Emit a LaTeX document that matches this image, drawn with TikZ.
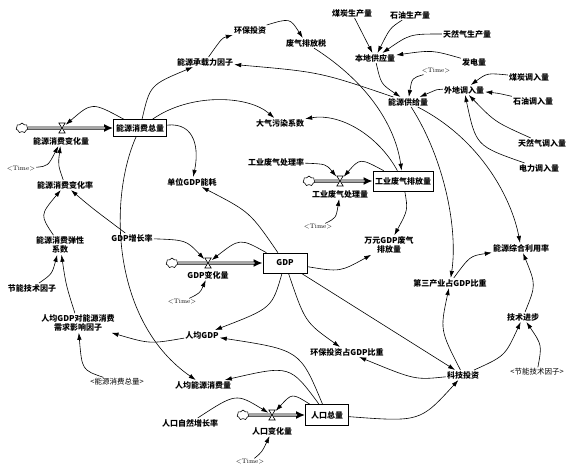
\documentclass[tikz,border=0pt]{standalone}
\usepackage{fontspec}
\newfontfamily\cjk{Noto Sans CJK SC}
\usetikzlibrary{arrows.meta,shapes.symbols}
\tikzset{
 lbl/.style={font=\cjk\bfseries\fontsize{8}{9.5}\selectfont, inner sep=1pt, align=center},
 shd/.style={font=\cjk\fontsize{7.5}{9}\selectfont, inner sep=1pt},
 tm/.style={font=\fontsize{6.5}{7}\selectfont, inner sep=1pt},
 stock/.style={lbl, draw, line width=0.7pt, inner sep=2pt, fill=white},
 arr/.style={line width=0.6pt, -{Latex[length=7pt,width=4.5pt]}},
 cloudn/.style={cloud, draw, cloud puffs=7, minimum width=12pt, minimum height=10pt, inner sep=0pt, fill=white, line width=0.6pt},
 vlv/.style={inner sep=0pt, minimum width=7pt, minimum height=10pt},
 pipeo/.style={line width=3pt, -{Latex[length=9pt,width=8pt]}},
 pipei/.style={white, line width=1.4pt, shorten >=8pt},
 hg/.pic={\draw[fill=white, line width=0.6pt] (-3.2,-5) -- (3.2,-5) -- (-3.2,5) -- (3.2,5) -- cycle;}
}
\begin{document}
\begin{tikzpicture}[x=1pt,y=-1pt]
\useasboundingbox (0,0) rectangle (572,469);
% ---------- nodes
\node[lbl] (coal) at (352,13) {煤炭生产量};
\node[lbl] (oil) at (410,15) {石油生产量};
\node[lbl] (gas) at (467,34) {天然气生产量};
\node[lbl] (local) at (375,58) {本地供应量};
\node[lbl] (power) at (474,62) {发电量};
\node[tm] (t1) at (436,71) {<Time>};
\node[lbl] (coalin) at (529,77) {煤炭调入量};
\node[lbl] (ext) at (464,90) {外地调入量};
\node[lbl] (supply) at (408,102) {能源供给量};
\node[lbl] (oilin) at (533,101) {石油调入量};
\node[lbl] (gasin) at (542,143) {天然气调入量};
\node[lbl] (elecin) at (539,168) {电力调入量};
\node[lbl] (envinv) at (250,30) {环保投资};
\node[lbl] (tax) at (306,43) {废气排放税};
\node[lbl] (carry) at (205,62) {能源承载力因子};
\node[lbl] (airpol) at (280,123) {大气污染系数};

\node[stock, minimum width=53pt, minimum height=17pt] (ectot) at (140,128) {能源消费总量};
\node[cloudn] (c1) at (22,128) {};
\node[vlv] (v1) at (62,128) {};
\node[lbl] (eclab) at (61,141) {能源消费变化量};
\node[tm] (t2) at (21,169) {<Time>};
\node[lbl] (ecrate) at (65,185) {能源消费变化率};
\node[lbl] (unitgdp) at (192,182) {单位GDP能耗};

\node[lbl] (treatrate) at (276,162) {工业废气处理率};
\node[stock, minimum width=60pt, minimum height=20pt] (emis) at (403,181) {工业废气排放量};
\node[cloudn] (c2) at (309,181) {};
\node[vlv] (v2) at (340,181) {};
\node[lbl] (trlab) at (340,194) {工业废气处理量};
\node[tm] (t3) at (318,227) {<Time>};
\node[lbl] (wanyuan) at (389,245) {万元GDP废气\\排放量};

\node[lbl] (gdprate) at (132,238) {GDP增长率};
\node[stock, minimum width=44pt, minimum height=20pt] (gdp) at (285,263) {GDP};
\node[cloudn] (c3) at (172,263) {};
\node[vlv] (v3) at (208,263) {};
\node[lbl] (gdplab) at (208,275) {GDP变化量};
\node[tm] (t4) at (182,302) {<Time>};

\node[lbl] (elast) at (60,245) {能源消费弹性\\系数};
\node[lbl] (saving) at (32,288) {节能技术因子};
\node[lbl] (pcfactor) at (78,323) {人均GDP对能源消费\\需求影响因子};
\node[shd] (ectot2) at (117,382) {<能源消费总量>};
\node[lbl] (pcgdp) at (202,335) {人均GDP};
\node[lbl] (pcec) at (203,385) {人均能源消费量};
\node[lbl] (natrate) at (190,423) {人口自然增长率};

\node[stock, minimum width=43pt, minimum height=21pt] (pop) at (327,415) {人口总量};
\node[cloudn] (c4) at (243,415) {};
\node[vlv] (v4) at (272,415) {};
\node[lbl] (poplab) at (272,431) {人口变化量};
\node[tm] (t5) at (250,462) {<Time>};

\node[lbl] (envratio) at (347,352) {环保投资占GDP比重};
\node[lbl] (tech) at (463,375) {科技投资};
\node[lbl] (techprog) at (523,317) {技术进步};
\node[shd] (saving2) at (537,372) {<节能技术因子>};
\node[lbl] (tertiary) at (450,283) {第三产业占GDP比重};
\node[lbl] (util) at (521,248) {能源综合利用率};

% ---------- pipes
\foreach \c/\b in {c1/ectot, c2/emis, c3/gdp, c4/pop}{
  \draw[pipeo] (\c) -- (\b);
  \draw[pipei] (\c) -- (\b);
}
\pic at (62,128) {hg};
\pic at (340,181) {hg};
\pic at (208,263) {hg};
\pic at (272,415) {hg};

% ---------- arrows: supply side
\draw[arr] (coal) -- (local);
\draw[arr] (oil) .. controls (390,28) .. (local);
\draw[arr] (gas) .. controls (410,34) .. (local);
\draw[arr] (power) .. controls (432,50) .. (local);
\draw[arr] (local) .. controls (381,84) .. (supply);
\draw[arr] (t1) .. controls (412,78) .. (supply);
\draw[arr] (ext) .. controls (438,89) .. (supply);
\draw[arr] (coalin) .. controls (487,73) .. (ext);
\draw[arr] (oilin) .. controls (497,93) .. (ext);
\draw[arr] (gasin) .. controls (495,122) .. (ext);
\draw[arr] (elecin) .. controls (476,146) .. (ext);
\draw[arr] (supply) .. controls (320,72) .. (carry);
\draw[arr] (supply) .. controls (445,160) and (458,230) .. (tertiary);
\draw[arr] (supply) .. controls (482,140) and (512,200) .. (util);

% ---------- environment
\draw[arr] (ectot) .. controls (150,85) .. (carry);
\draw[arr] (carry) .. controls (222,38) .. (envinv);
\draw[arr] (envinv) .. controls (290,18) .. (tax);
\draw[arr] (tax) .. controls (372,85) and (396,130) .. (emis);
\draw[arr] (emis) .. controls (378,135) and (340,113) .. (airpol);
\draw[arr] (ectot) .. controls (190,93) and (248,95) .. (airpol);
\draw[arr] (ectot) .. controls (196,122) and (199,150) .. (unitgdp);
\draw[arr] (emis) .. controls (408,210) .. (wanyuan);
\draw[arr] (emis) .. controls (360,158) .. (v2);
\draw[arr] (treatrate) .. controls (326,164) .. (v2);
\draw[arr] (t3) .. controls (336,218) .. (trlab);

% ---------- energy consumption stock
\draw[arr] (ectot) .. controls (92,102) .. (v1);
\draw[arr] (ecrate) .. controls (58,165) .. (eclab);
\draw[arr] (t2) .. controls (48,166) .. (eclab);
\draw[arr] (elast) .. controls (40,215) .. (ecrate);
\draw[arr] (gdprate) .. controls (92,208) .. (ecrate);
\draw[arr] (saving) .. controls (52,274) .. (elast);
\draw[arr] (pcfactor) .. controls (66,285) .. (elast);
\draw[arr] (ectot) .. controls (108,200) and (112,322) .. (pcec);
\draw[arr] (pcgdp) .. controls (150,344) .. (pcfactor);
\draw[arr] (ectot2) .. controls (82,370) .. (pcfactor);

% ---------- GDP
\draw[arr] (gdp) .. controls (250,212) .. (unitgdp);
\draw[arr] (gdp) .. controls (240,238) .. (v3);
\draw[arr] (gdprate) .. controls (186,240) .. (v3);
\draw[arr] (t4) .. controls (200,293) .. (gdplab);
\draw[arr] (gdp) .. controls (340,272) .. (wanyuan);
\draw[arr] (gdp) .. controls (272,308) .. (pcgdp);
\draw[arr] (gdp) .. controls (305,322) .. (envratio);
\draw[arr] (gdp) -- (tech);

% ---------- population
\draw[arr] (pop) .. controls (300,350) .. (pcgdp);
\draw[arr] (pop) .. controls (290,365) .. (pcec);
\draw[arr] (pop) .. controls (420,422) .. (tech);
\draw[arr] (pop) .. controls (292,393) .. (v4);
\draw[arr] (natrate) .. controls (236,393) .. (v4);
\draw[arr] (t5) .. controls (262,452) .. (poplab);

% ---------- technology
\draw[arr] (tech) .. controls (415,380) .. (envratio);
\draw[arr] (tech) .. controls (440,330) .. (tertiary);
\draw[arr] (tech) .. controls (505,356) .. (techprog);
\draw[arr] (saving2) .. controls (542,345) .. (techprog);
\draw[arr] (techprog) .. controls (536,285) .. (util);
\draw[arr] (tertiary) .. controls (470,256) .. (util);
\end{tikzpicture}
\end{document}
